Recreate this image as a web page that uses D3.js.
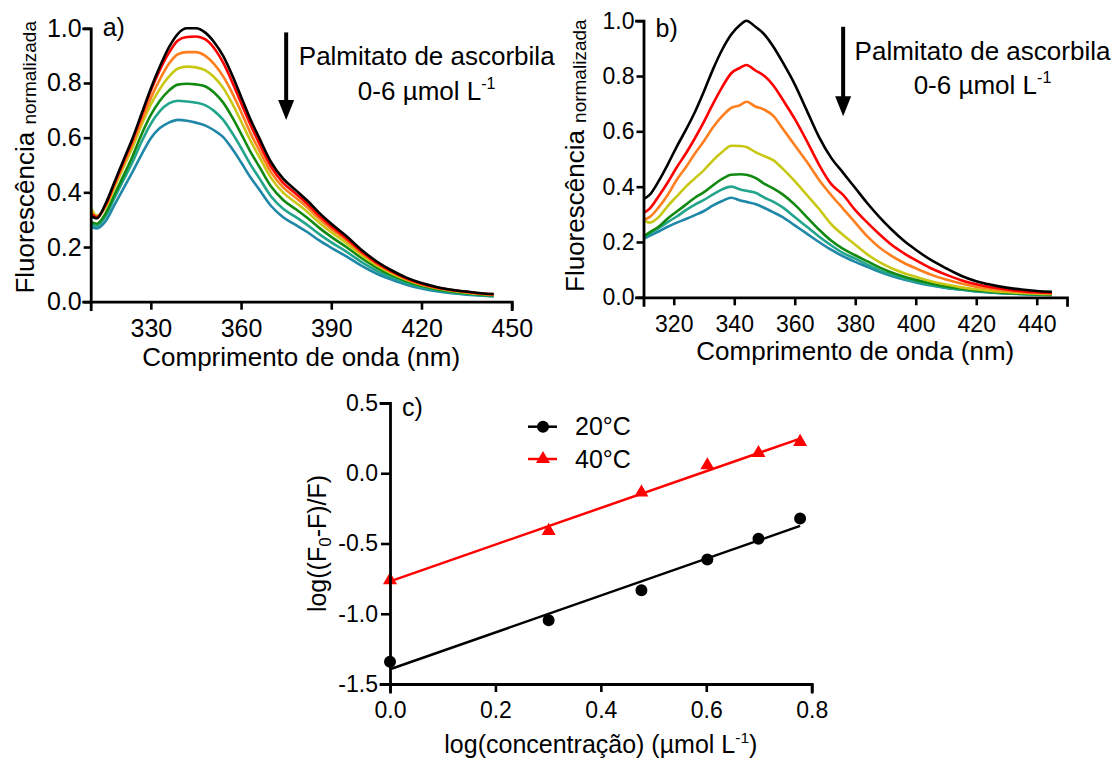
<!DOCTYPE html>
<html><head><meta charset="utf-8">
<script src="https://cdn.jsdelivr.net/npm/d3@7"></script>
<style>
body{margin:0;background:#fff;}
svg{display:block;font-family:"Liberation Sans",Arial,sans-serif;}
</style></head><body>
<svg id="fig" width="1113" height="760"></svg>
<script>
// ---- emission spectra, quencher 0..6 umol/L (panel a, 20 °C) ----
const wavelengthA = [310,312,315,318,321,324,327,330,333,336,339,342,345,348,351,354,357,360,363,366,370,374,378,382,386,390,395,400,405,410,415,420,425,430,435,440,444];
const specA_0 = [0.315,0.305,0.36,0.44,0.52,0.60,0.69,0.78,0.86,0.93,0.98,1.0,1.0,0.985,0.95,0.90,0.83,0.75,0.67,0.60,0.51,0.45,0.41,0.37,0.325,0.285,0.24,0.19,0.148,0.115,0.088,0.068,0.054,0.044,0.037,0.031,0.028];
const specA_1 = [0.325,0.31,0.355,0.435,0.515,0.594,0.683,0.772,0.848,0.91,0.955,0.968,0.97,0.96,0.928,0.875,0.805,0.727,0.65,0.58,0.493,0.435,0.397,0.358,0.314,0.276,0.232,0.184,0.143,0.111,0.085,0.066,0.052,0.043,0.036,0.030,0.027];
const specA_2 = [0.325,0.305,0.352,0.43,0.505,0.58,0.664,0.745,0.813,0.87,0.905,0.913,0.913,0.90,0.87,0.825,0.765,0.695,0.62,0.555,0.473,0.418,0.382,0.345,0.303,0.266,0.225,0.179,0.14,0.109,0.083,0.064,0.051,0.042,0.035,0.029,0.026];
const specA_3 = [0.345,0.315,0.345,0.42,0.494,0.567,0.649,0.722,0.778,0.823,0.853,0.86,0.857,0.847,0.822,0.783,0.726,0.66,0.592,0.531,0.452,0.399,0.364,0.329,0.289,0.254,0.214,0.171,0.134,0.104,0.08,0.062,0.049,0.04,0.033,0.028,0.025];
const specA_4 = [0.293,0.285,0.324,0.394,0.463,0.534,0.614,0.683,0.735,0.772,0.794,0.797,0.795,0.788,0.765,0.729,0.676,0.615,0.551,0.495,0.421,0.372,0.34,0.307,0.27,0.237,0.2,0.16,0.125,0.097,0.075,0.058,0.046,0.037,0.031,0.026,0.023];
const specA_5 = [0.285,0.277,0.313,0.381,0.447,0.513,0.587,0.651,0.697,0.725,0.735,0.732,0.728,0.719,0.698,0.666,0.618,0.563,0.504,0.453,0.385,0.34,0.311,0.281,0.247,0.217,0.183,0.146,0.114,0.089,0.068,0.053,0.042,0.034,0.028,0.024,0.021];
const specA_6 = [0.274,0.268,0.295,0.356,0.416,0.477,0.54,0.598,0.635,0.655,0.665,0.662,0.655,0.645,0.627,0.603,0.56,0.51,0.457,0.411,0.35,0.309,0.282,0.255,0.224,0.197,0.166,0.132,0.103,0.081,0.062,0.048,0.038,0.031,0.026,0.022,0.019];

// ---- emission spectra, quencher 0..6 umol/L (panel b, 40 °C) ----
const wavelengthB = [310,312,315,318,321,324,327,330,333,336,339,342,344,347,350,353,356,360,364,368,372,376,380,384,388,392,396,400,405,410,415,420,425,430,435,440,445];
const specB_0 = [0.355,0.37,0.42,0.48,0.545,0.605,0.67,0.745,0.825,0.895,0.95,0.985,1.0,0.978,0.95,0.905,0.85,0.77,0.675,0.58,0.505,0.45,0.395,0.34,0.29,0.245,0.205,0.172,0.135,0.105,0.078,0.058,0.045,0.035,0.028,0.023,0.02];
const specB_1 = [0.305,0.32,0.365,0.415,0.47,0.52,0.575,0.635,0.70,0.76,0.81,0.83,0.84,0.82,0.80,0.765,0.715,0.645,0.565,0.48,0.41,0.37,0.315,0.27,0.228,0.19,0.16,0.134,0.105,0.082,0.062,0.047,0.036,0.028,0.022,0.018,0.016];
const specB_2 = [0.28,0.29,0.325,0.37,0.425,0.47,0.52,0.565,0.615,0.655,0.685,0.695,0.707,0.69,0.678,0.655,0.61,0.55,0.49,0.425,0.37,0.32,0.27,0.22,0.18,0.15,0.125,0.105,0.082,0.064,0.05,0.038,0.03,0.024,0.019,0.016,0.014];
const specB_3 = [0.28,0.27,0.29,0.33,0.365,0.40,0.43,0.46,0.495,0.525,0.548,0.547,0.543,0.525,0.51,0.495,0.465,0.42,0.37,0.32,0.265,0.225,0.19,0.155,0.127,0.105,0.088,0.074,0.058,0.046,0.036,0.029,0.023,0.019,0.016,0.013,0.012];
const specB_4 = [0.22,0.235,0.255,0.285,0.31,0.335,0.36,0.38,0.405,0.428,0.443,0.445,0.443,0.432,0.41,0.393,0.372,0.335,0.29,0.245,0.205,0.175,0.152,0.13,0.108,0.09,0.075,0.063,0.05,0.039,0.031,0.025,0.02,0.016,0.013,0.011,0.01];
const specB_5 = [0.215,0.23,0.25,0.272,0.292,0.315,0.335,0.352,0.372,0.39,0.40,0.39,0.385,0.378,0.36,0.345,0.325,0.29,0.255,0.22,0.188,0.16,0.14,0.118,0.098,0.082,0.068,0.057,0.045,0.035,0.028,0.022,0.018,0.014,0.012,0.01,0.009];
const specB_6 = [0.21,0.222,0.238,0.255,0.27,0.283,0.297,0.312,0.332,0.348,0.36,0.35,0.345,0.337,0.323,0.307,0.29,0.26,0.23,0.2,0.172,0.148,0.128,0.11,0.092,0.077,0.064,0.054,0.043,0.034,0.027,0.021,0.017,0.014,0.011,0.009,0.008];

const curveColors = ["#000000","#ff0000","#ff7f1e","#c8c814","#128a12","#22a58c","#1f87a8"];

// ---- double-log quenching plot (panel c) ----
const logConc = [0, 0.301, 0.477, 0.602, 0.699, 0.778];
const quench20 = [-1.342, -1.046, -0.832, -0.614, -0.467, -0.322];
const quench40 = [-0.761, -0.410, -0.137, 0.057, 0.144, 0.223];

const ticksA = [330, 360, 390, 420, 450];
const ticksB = [320, 340, 360, 380, 400, 420, 440];
const ticksFluor = [0, 0.2, 0.4, 0.6, 0.8, 1.0];
const ticksCx = [0, 0.2, 0.4, 0.6, 0.8];
const ticksCy = [-1.5, -1.0, -0.5, 0.0, 0.5];

const svg = d3.select("#fig");
svg.append("rect").attr("width", 1113).attr("height", 760).attr("fill", "#fff");

function styleAxis(g, labelSize) {
  g.select(".domain").attr("stroke", "#000").attr("stroke-width", 2.8).attr("stroke-linecap", "square");
  g.selectAll(".tick line").attr("stroke", "#000").attr("stroke-width", 2.6);
  g.selectAll(".tick text").attr("fill", "#000").attr("font-size", labelSize)
    .attr("font-family", "Liberation Sans, Arial, sans-serif");
}

function addSuperUnit(textSel, size) {
  // "µmol L^-1" unit with raised exponent
  textSel.append("tspan").attr("font-size", size).text("\u00B5mol L");
  textSel.append("tspan").attr("font-size", size * 0.62).attr("dy", -size * 0.42).text("-1");
}

function spectraPanel(p) {
  const g = svg.append("g").attr("transform", `translate(${p.left},${p.top})`);
  const w = p.right - p.left, h = p.bottom - p.top;
  const x = d3.scaleLinear().domain([310, 450]).range([0, w]);
  const y = d3.scaleLinear().domain([0, 1]).range([h, 0]);

  const line = d3.line().x((d, i) => x(p.wl[i])).y(d => y(d)).curve(d3.curveMonotoneX);
  for (let k = p.series.length - 1; k >= 0; k--) {
    g.append("path").attr("d", line(p.series[k])).attr("fill", "none")
      .attr("stroke", curveColors[k]).attr("stroke-width", 2.6).attr("stroke-linejoin", "round");
  }

  const xa = g.append("g").attr("transform", `translate(0,${h})`)
    .call(d3.axisBottom(x).tickValues(p.xticks).tickSizeOuter(0).tickSize(8).tickPadding(p.xpad).tickFormat(d3.format("d")));
  styleAxis(xa, p.xfont);
  const ya = g.append("g")
    .call(d3.axisLeft(y).tickValues(ticksFluor).tickSizeOuter(0).tickSize(7).tickPadding(2).tickFormat(d => d.toFixed(1)));
  styleAxis(ya, p.yfont);

  // panel letter
  g.append("text").attr("x", p.letterX).attr("y", p.letterY).attr("font-size", 25).text(p.letter);

  // arrow showing increasing quencher
  const ax = x(p.arrowNm);
  g.append("line").attr("x1", ax).attr("x2", ax).attr("y1", y(p.arrowTop)).attr("y2", y(p.arrowBot) - 18)
    .attr("stroke", "#000").attr("stroke-width", 4);
  g.append("path").attr("d", `M${ax - 8},${y(p.arrowBot) - 20} L${ax + 8},${y(p.arrowBot) - 20} L${ax},${y(p.arrowBot)} Z`).attr("fill", "#000");

  g.append("text").attr("x", p.noteX).attr("y", p.note1Y).attr("text-anchor", "middle")
    .attr("font-size", 26).text("Palmitato de ascorbila");
  const t2 = g.append("text").attr("x", p.noteX).attr("y", p.note2Y).attr("text-anchor", "middle").attr("font-size", 26);
  t2.append("tspan").text("0-6 ");
  addSuperUnit(t2, 26);

  // axis titles
  g.append("text").attr("x", w / 2).attr("y", h + p.xtitleY).attr("text-anchor", "middle")
    .attr("font-size", 26).text("Comprimento de onda (nm)");
  const yt = g.append("text").attr("text-anchor", "middle")
    .attr("transform", `translate(${p.ytitleX},${p.ytitleC}) rotate(-90)`);
  yt.append("tspan").attr("font-size", 26).text("Fluorescência ");
  yt.append("tspan").attr("font-size", 19).attr("dy", 2).text("normalizada");
}

spectraPanel({
  left: 90.7, right: 511.7, top: 28.3, bottom: 301.7,
  wl: wavelengthA, series: [specA_0, specA_1, specA_2, specA_3, specA_4, specA_5, specA_6],
  xticks: ticksA, xpad: 10, xfont: 25, yfont: 25,
  letter: "a)", letterX: 12, letterY: 8,
  arrowNm: 375, arrowTop: 0.985, arrowBot: 0.665,
  noteX: 336, note1Y: 37, note2Y: 72,
  xtitleY: 64, ytitleX: -57, ytitleC: 129
});

spectraPanel({
  left: 643.5, right: 1067, top: 20.7, bottom: 297.3,
  wl: wavelengthB, series: [specB_0, specB_1, specB_2, specB_3, specB_4, specB_5, specB_6],
  xticks: ticksB, xpad: 10, xfont: 23, yfont: 23,
  letter: "b)", letterX: 12, letterY: 16,
  arrowNm: 376, arrowTop: 0.978, arrowBot: 0.655,
  noteX: 339, note1Y: 39.5, note2Y: 73.6,
  xtitleY: 62.5, ytitleX: -60, ytitleC: 135
});

// ---- panel c ----
(function () {
  const left = 390, right = 811.7, top = 403, bottom = 684;
  const w = right - left, h = bottom - top;
  const g = svg.append("g").attr("transform", `translate(${left},${top})`);
  const x = d3.scaleLinear().domain([0, 0.8]).range([0, w]);
  const y = d3.scaleLinear().domain([-1.5, 0.5]).range([h, 0]);

  function fit(xs, ys) {
    const mx = d3.mean(xs), my = d3.mean(ys);
    let sxy = 0, sxx = 0;
    xs.forEach((v, i) => { sxy += (v - mx) * (ys[i] - my); sxx += (v - mx) * (v - mx); });
    const b = sxy / sxx;
    return { a: my - b * mx, b };
  }
  const groups = [
    { ys: quench20, color: "#000", sym: d3.symbolCircle, size: 113, label: "20°C" },
    { ys: quench40, color: "#ff0000", sym: d3.symbolTriangle, size: 85, label: "40°C" }
  ];
  groups.forEach(s => {
    const f = fit(logConc, s.ys);
    const x0 = logConc[0], x1 = logConc[logConc.length - 1];
    g.append("line").attr("x1", x(x0)).attr("x2", x(x1))
      .attr("y1", y(f.a + f.b * x0)).attr("y2", y(f.a + f.b * x1))
      .attr("stroke", s.color).attr("stroke-width", 2.5);
    g.selectAll(null).data(s.ys).join("path")
      .attr("d", d3.symbol(s.sym, s.size))
      .attr("transform", (d, i) => `translate(${x(logConc[i])},${y(d)})`)
      .attr("fill", s.color);
  });

  const xa = g.append("g").attr("transform", `translate(0,${h})`)
    .call(d3.axisBottom(x).tickValues(ticksCx).tickSizeOuter(0).tickSize(8).tickPadding(10).tickFormat(d => d.toFixed(1)));
  styleAxis(xa, 23);
  const ya = g.append("g")
    .call(d3.axisLeft(y).tickValues(ticksCy).tickSizeOuter(0).tickSize(9).tickPadding(3).tickFormat(d => d.toFixed(1)));
  styleAxis(ya, 23);

  g.append("text").attr("x", 12).attr("y", 13).attr("font-size", 25).text("c)");

  // legend
  groups.forEach((s, i) => {
    const ly = 23.7 + i * 32.3;
    g.append("line").attr("x1", 138).attr("x2", 167).attr("y1", ly).attr("y2", ly)
      .attr("stroke", s.color).attr("stroke-width", 2.5);
    g.append("path").attr("d", d3.symbol(s.sym, s.size)).attr("transform", `translate(153,${ly})`).attr("fill", s.color);
    g.append("text").attr("x", 185).attr("y", ly + 8.5).attr("font-size", 25).text(s.label);
  });

  // axis titles
  const xt = g.append("text").attr("x", w / 2).attr("y", h + 69)
    .attr("text-anchor", "middle").attr("font-size", 25);
  xt.append("tspan").text("log(concentração) (");
  addSuperUnit(xt, 25);
  xt.append("tspan").attr("dy", 25 * 0.42).text(")");

  const yt = g.append("text").attr("text-anchor", "middle").attr("font-size", 25)
    .attr("transform", `translate(-64,${h / 2}) rotate(-90)`);
  yt.append("tspan").text("log((F");
  yt.append("tspan").attr("font-size", 17).attr("dy", 5).text("0");
  yt.append("tspan").attr("dy", -5).text("-F)/F)");
})();
</script>
</body></html>
